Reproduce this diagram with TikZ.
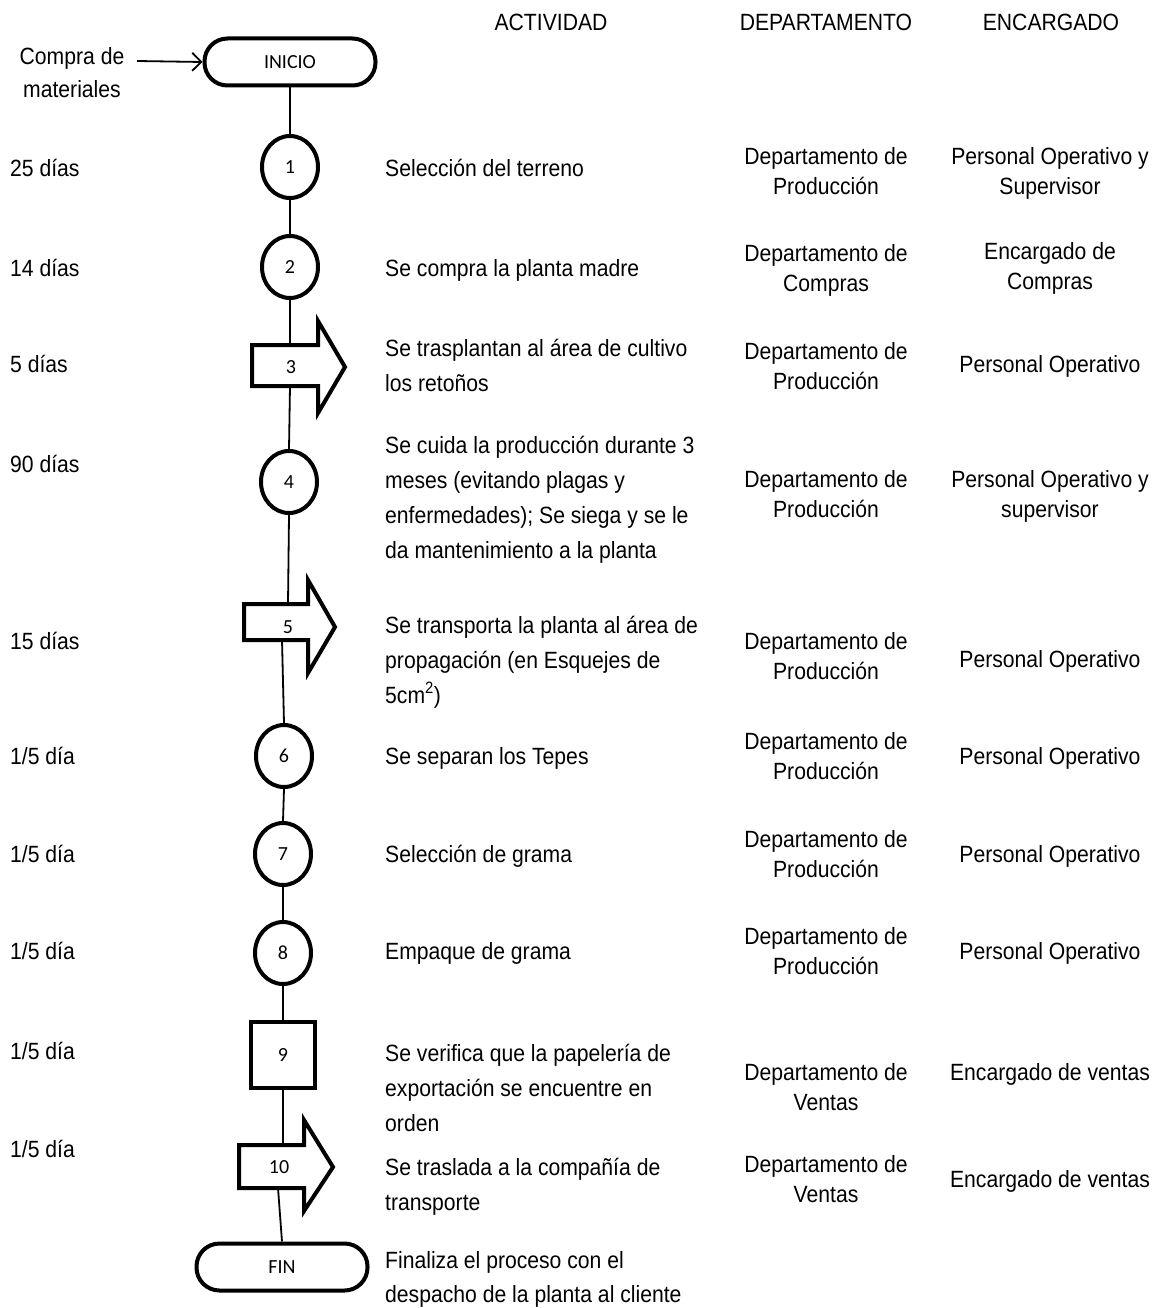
\documentclass[tikz,border=0pt]{standalone}
\usepackage{fontspec}
\setmainfont{Liberation Sans}[FakeStretch=0.9]
\newfontfamily\numfont{Carlito}
\usetikzlibrary{arrows.meta,shapes.geometric}
\tikzset{
  shp/.style={draw=black, line width=4pt, fill=white, line join=miter},
  lbl/.style={font=\numfont\fontsize{20}{24}\selectfont, inner sep=0},
  term/.style={shp, rounded corners=23pt, minimum width=171pt, minimum height=47pt, inner sep=0, font=\numfont\fontsize{20}{24}\selectfont},
  circ/.style={shp, ellipse, minimum width=56pt, minimum height=62pt, inner sep=0, font=\numfont\fontsize{20}{24}\selectfont},
  boxn/.style={shp, rectangle, minimum width=64pt, minimum height=66pt, inner sep=0, font=\numfont\fontsize{20}{24}\selectfont},
  conn/.style={draw=black, line width=1.8pt},
  dur/.style={font=\fontsize{23.5}{30}\selectfont, inner sep=0, anchor=base west},
  act/.style={font=\fontsize{23.5}{35}\selectfont, inner sep=0, align=left, anchor=base west},
  dep/.style={font=\fontsize{23.5}{30}\selectfont, inner sep=0, align=center, anchor=base},
}
\begin{document}
\begin{tikzpicture}[x=1pt,y=-1pt]
\useasboundingbox (0,0) rectangle (1160,1308);
\fill[white] (0,0) rectangle (1160,1308);

% headers
\node[dep] (hact) at (551,31) {ACTIVIDAD};
\node[dep] (hdep) at (826,31) {DEPARTAMENTO};
\node[dep] (henc) at (1051,31) {ENCARGADO};

% compra de materiales (base = last line)
\node[font=\fontsize{23.5}{33}\selectfont, inner sep=0, align=center, anchor=base] (compra) at (72,98) {Compra de\\materiales};
\coordinate (cstart) at (137,61);

% shapes
\node[term] (inicio) at (290,62) {INICIO};
\node[circ] (c1) at (290,167) {1};
\node[circ] (c2) at (290,267) {2};
% arrow 3
\draw[shp] (252,345) -- (318,345) -- (318,321) -- (345,367) -- (318,413) -- (318,386) -- (252,386) -- cycle;
\node[lbl] (a3) at (291,367) {3};
\coordinate (a3top) at (290,345);
\coordinate (a3bot) at (290,386);
\node[circ] (c4) at (289,482) {4};
% arrow 5
\draw[shp] (244,604) -- (308,604) -- (308,580) -- (335,627) -- (308,673) -- (308,640) -- (244,640) -- cycle;
\node[lbl] (a5) at (288,627) {5};
\coordinate (a5top) at (288,604);
\coordinate (a5bot) at (282,640);
\node[circ] (c6) at (284,756) {6};
\node[circ] (c7) at (283,854) {7};
\node[circ] (c8) at (283,953) {8};
\node[boxn] (b9) at (283,1055) {9};
% arrow 10
\draw[shp] (239,1145) -- (304,1145) -- (304,1120) -- (333,1167) -- (304,1211) -- (304,1188) -- (239,1188) -- cycle;
\node[lbl] (a10) at (279,1167) {10};
\coordinate (a10top) at (283,1145);
\coordinate (a10bot) at (278,1188);
\node[term] (fin) at (282,1267) {FIN};

% connectors
\draw[conn, -{Straight Barb[length=9pt,width=18pt]}] (cstart) -- (inicio.west);
\draw[conn] (inicio.south) -- (c1.north);
\draw[conn] (c1.south) -- (c2.north);
\draw[conn] (c2.south) -- (a3top);
\draw[conn] (a3bot) -- (c4.north);
\draw[conn] (c4.south) -- (a5top);
\draw[conn] (a5bot) -- (c6.north);
\draw[conn] (c6.south) -- (c7.north);
\draw[conn] (c7.south) -- (c8.north);
\draw[conn] (c8.south) -- (b9.north);
\draw[conn] (b9.south) -- (a10top);
\draw[conn] (a10bot) -- (fin.north);

% durations
\node[dur] (t1) at (10,177) {25 días};
\node[dur] (t2) at (10,276) {14 días};
\node[dur] (t3) at (10,372) {5 días};
\node[dur] (t4) at (10,472) {90 días};
\node[dur] (t5) at (10,649) {15 días};
\node[dur] (t6) at (10,764) {1/5 día};
\node[dur] (t7) at (10,862) {1/5 día};
\node[dur] (t8) at (10,959) {1/5 día};
\node[dur] (t9) at (10,1059) {1/5 día};
\node[dur] (t10) at (10,1157) {1/5 día};

% activities (base anchor = baseline of last line)
\node[act] (x1) at (385,177) {Selección del terreno};
\node[act] (x2) at (385,276) {Se compra la planta madre};
\node[act] (x3) at (385,391) {Se trasplantan al área de cultivo\\los retoños};
\node[act] (x4) at (385,558) {Se cuida la producción durante 3\\meses (evitando plagas y\\enfermedades); Se siega y se le\\da mantenimiento a la planta};
\node[act] (x5) at (385,703) {Se transporta la planta al área de\\propagación (en Esquejes de\\5cm\textsuperscript{2})};
\node[act] (x6) at (385,764) {Se separan los Tepes};
\node[act] (x7) at (385,862) {Selección de grama};
\node[act] (x8) at (385,959) {Empaque de grama};
\node[act] (x9) at (385,1131) {Se verifica que la papelería de\\exportación se encuentre en\\orden};
\node[act] (x10) at (385,1210) {Se traslada a la compañía de\\transporte};
\node[act, font=\fontsize{23.5}{34}\selectfont] (xf) at (385,1302) {Finaliza el proceso con el\\despacho de la planta al cliente};

% departments
\node[dep] (d1) at (826,194) {Departamento de\\Producción};
\node[dep] (d2) at (826,291) {Departamento de\\Compras};
\node[dep] (d3) at (826,389) {Departamento de\\Producción};
\node[dep] (d4) at (826,517) {Departamento de\\Producción};
\node[dep] (d5) at (826,679) {Departamento de\\Producción};
\node[dep] (d6) at (826,779) {Departamento de\\Producción};
\node[dep] (d7) at (826,877) {Departamento de\\Producción};
\node[dep] (d8) at (826,974) {Departamento de\\Producción};
\node[dep] (d9) at (826,1110) {Departamento de\\Ventas};
\node[dep] (d10) at (826,1202) {Departamento de\\Ventas};

% encargados
\node[dep] (e1) at (1050,194) {Personal Operativo y\\Supervisor};
\node[dep] (e2) at (1050,289) {Encargado de\\Compras};
\node[dep] (e3) at (1050,372) {Personal Operativo};
\node[dep] (e4) at (1050,517) {Personal Operativo y\\supervisor};
\node[dep] (e5) at (1050,667) {Personal Operativo};
\node[dep] (e6) at (1050,764) {Personal Operativo};
\node[dep] (e7) at (1050,862) {Personal Operativo};
\node[dep] (e8) at (1050,959) {Personal Operativo};
\node[dep] (e9) at (1050,1080) {Encargado de ventas};
\node[dep] (e10) at (1050,1187) {Encargado de ventas};
\end{tikzpicture}
\end{document}
